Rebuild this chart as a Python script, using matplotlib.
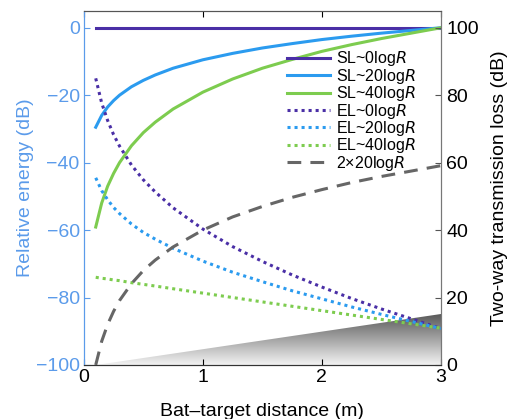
import numpy as np
import matplotlib
matplotlib.use("Agg")
import matplotlib.pyplot as plt
from matplotlib.patches import Polygon

plt.rcParams['font.family'] = ['Liberation Sans', 'DejaVu Sans']

R = [0.1, 0.15, 0.2, 0.25, 0.3, 0.4, 0.5, 0.6, 0.75, 1.0, 1.25, 1.5, 1.75, 2.0, 2.25, 2.5, 3.0]

# relative energy (dB), left axis
sl0 = [0] * len(R)
sl20 = [-29.5, -26.0, -23.5, -21.6, -20.0, -17.5, -15.6, -14.0, -12.0, -9.5, -7.6, -6.0, -4.7, -3.5, -2.5, -1.6, 0]
sl40 = [-59.1, -52.0, -47.0, -43.2, -40.0, -35.0, -31.1, -28.0, -24.1, -19.1, -15.2, -12.0, -9.4, -7.0, -5.0, -3.2, 0]
el0 = [-15.0, -22.3, -27.5, -31.7, -35.1, -40.7, -45.1, -48.7, -53.4, -59.7, -64.9, -69.3, -73.3, -76.9, -80.3, -83.4, -89.2]
el20 = [-44.5, -48.3, -51.0, -53.3, -55.1, -58.2, -60.7, -62.7, -65.4, -69.2, -72.5, -75.3, -78.0, -80.4, -82.8, -85.0, -89.2]
el40 = [-74.0, -74.3, -74.5, -74.8, -75.0, -75.6, -76.1, -76.6, -77.4, -78.7, -80.0, -81.3, -82.6, -83.9, -85.2, -86.5, -89.1]

# two-way transmission loss (dB), right axis
tl = [0, 7.0, 12.0, 15.9, 19.1, 24.1, 28.0, 31.1, 35.0, 40.0, 43.9, 47.0, 49.7, 52.0, 54.1, 55.9, 59.1]

# shaded wedge (distance, relative energy)
wedge_x = [0.1, 3.0, 3.0]
wedge_y = [-100, -100, -85]

c_purple = '#4a2fa6'
c_blue = '#2b9bef'
c_green = '#7dcc4f'
c_axis = '#5b9bea'

fs = 14

fig = plt.figure(figsize=(5.08, 4.19), dpi=100)
ax = fig.add_axes([0.165, 0.129, 0.703, 0.845])
ax2 = ax.twinx()

# gradient wedge
grad = np.linspace(0.95, 0.35, 256).reshape(-1, 1)
im = ax.imshow(grad, cmap='gray', vmin=0, vmax=1, aspect='auto',
               extent=[min(wedge_x), max(wedge_x), min(wedge_y), max(wedge_y)],
               origin='lower', zorder=0)
poly = Polygon(list(zip(wedge_x, wedge_y)), closed=True, facecolor='none', edgecolor='none')
ax.add_patch(poly)
im.set_clip_path(poly)

lw = 2.2
dot = (0, (1, 1.3))
h1, = ax.plot(R, sl0, color=c_purple, lw=lw, label='SL~0log$\\it{R}$')
h2, = ax.plot(R, sl20, color=c_blue, lw=lw, label='SL~20log$\\it{R}$')
h3, = ax.plot(R, sl40, color=c_green, lw=lw, label='SL~40log$\\it{R}$')
h4, = ax.plot(R, el0, color=c_purple, lw=lw, ls=dot, label='EL~0log$\\it{R}$')
h5, = ax.plot(R, el20, color=c_blue, lw=lw, ls=dot, label='EL~20log$\\it{R}$')
h6, = ax.plot(R, el40, color=c_green, lw=lw, ls=dot, label='EL~40log$\\it{R}$')
h7, = ax2.plot(R, tl, color='#666666', lw=lw, ls=(0, (4.5, 3)), label='2×20log$\\it{R}$')

ax.set_xlim(0, 3)
ax.set_ylim(-100, 5)
ax2.set_ylim(0, 105)
ax.set_xticks([0, 1, 2, 3])
ax.set_yticks([-100, -80, -60, -40, -20, 0])
ax2.set_yticks([0, 20, 40, 60, 80, 100])

ax.tick_params(axis='x', direction='in', top=True, labelsize=fs, length=4, pad=3)
ax.tick_params(axis='y', direction='in', colors=c_axis, labelsize=fs, length=4, pad=3)
ax2.tick_params(axis='y', direction='in', labelsize=fs, length=4, pad=4, color='#555555')

ax.set_xlabel('Bat–target distance (m)', fontsize=fs, labelpad=12)
ax.set_ylabel('Relative energy (dB)', fontsize=fs, color=c_axis, labelpad=1)
ax2.set_ylabel('Two-way transmission loss (dB)', fontsize=fs, labelpad=8.5)

for a in (ax, ax2):
    a.spines['left'].set_color(c_axis)
    a.spines['right'].set_color('#777777')
    a.spines['top'].set_color('#555555')
    a.spines['bottom'].set_color('#333333')

ax2.legend(handles=[h1, h2, h3, h4, h5, h6, h7], loc='upper left',
           bbox_to_anchor=(0.555, 0.905), frameon=False, fontsize=11.5,
           handlelength=2.7, handletextpad=0.4, labelspacing=-0.1,
           borderaxespad=0, borderpad=0.3)

fig.savefig('out.png', dpi=100)
